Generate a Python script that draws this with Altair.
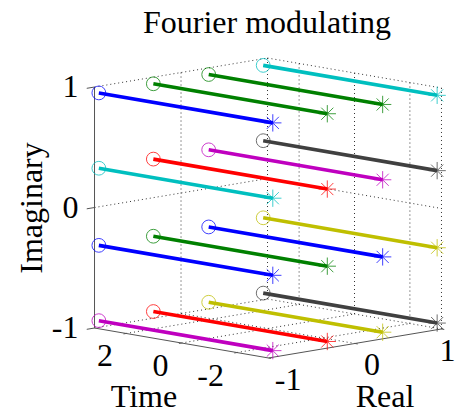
import altair as alt
import pandas as pd

# Constellation values
real_levels = [-0.95, -0.32, 0.32, 0.95]
imag_levels = [0.945, 0.32, -0.32, -0.945]
time_start = 3.14
time_end = -3.14
colors = [
    ["#0000ff", "#008000", "#008000", "#00bfbf"],
    ["#00bfbf", "#ff0000", "#bf00bf", "#404040"],
    ["#0000ff", "#008000", "#0000ff", "#bfbf00"],
    ["#bf00bf", "#ff0000", "#bfbf00", "#404040"],
]
time_ticks = [2, 0, -2]
real_ticks = [-1, 0, 1]
imag_ticks = [1, 0, -1]
T = 3.14

FONT = "Liberation Serif"
FS = 32


def px(t, r):
    return f"268 - 27.7*datum.{t} + 86.5*datum.{r}"


def py(t, r, z):
    return f"328.5 - 120.5*(datum.{z}+1) - 4.77*datum.{t} - 14.5*datum.{r}"


# Build tables
pts = []
for zi, z in enumerate(imag_levels):
    for ri, r in enumerate(real_levels):
        pts.append(dict(r=r, z=z, t0=time_start, t1=time_end, c=colors[zi][ri]))
pts = pd.DataFrame(pts)

dotted = []
for t in time_ticks:
    dotted.append((t, -1, -1, t, 1, -1))   # floor
    dotted.append((t, 1, -1, t, 1, 1))     # back wall
for r in [0, 1]:
    dotted.append((T, r, -1, T, r, 1))     # left wall
for r in [0, 1]:
    dotted.append((T, r, -1, -T, r, -1))   # floor
dotted.append((-T, 1, -1, -T, 1, 1))
dotted.append((T, -1, -1, T, 1, -1))
for z in imag_ticks[:2]:
    dotted.append((T, -1, z, T, 1, z))
    dotted.append((T, 1, z, -T, 1, z))
cols = ["t0", "r0", "z0", "t1", "r1", "z1"]
dotted = pd.DataFrame(dotted, columns=cols)

solid = [
    (T, -1, -1, T, -1, 1),
    (T, -1, -1, -T, -1, -1),
    (-T, -1, -1, -T, 1, -1),
]
solid = pd.DataFrame(solid, columns=cols)

ticks = []
for z in imag_ticks:
    ticks.append((T, -1, z, T, -1.09, z))
for t in time_ticks:
    ticks.append((t, -1, -1, t, -1.03, -1))
for r in real_ticks:
    ticks.append((-T, r, -1, -T - 0.1, r, -1))
ticks = pd.DataFrame(ticks, columns=cols)

z_labels = pd.DataFrame([dict(t=T, r=-1, z=z, s=str(z)) for z in imag_ticks])
t_labels = pd.DataFrame([dict(t=t, r=-1, z=-1, s=str(t)) for t in time_ticks])
r_labels = pd.DataFrame([dict(t=-T, r=r, z=-1, s=str(r)) for r in real_ticks])

X = alt.Scale(domain=[8, 456])
Y = alt.Scale(domain=[408, 8])


def seg_layer(data, **mark):
    return (
        alt.Chart(data)
        .transform_calculate(
            x=px("t0", "r0"), y=py("t0", "r0", "z0"),
            x2=px("t1", "r1"), y2=py("t1", "r1", "z1"),
        )
        .mark_rule(**mark)
        .encode(
            x=alt.X("x:Q", scale=X, axis=None),
            y=alt.Y("y:Q", scale=Y, axis=None),
            x2="x2:Q",
            y2="y2:Q",
        )
    )


def label_layer(data, dx, dy, align):
    return (
        alt.Chart(data)
        .transform_calculate(x=px("t", "r"), y=py("t", "r", "z"))
        .mark_text(font=FONT, fontSize=FS, color="black", align=align,
                   baseline="middle", dx=dx, dy=dy)
        .encode(
            x=alt.X("x:Q", scale=X, axis=None),
            y=alt.Y("y:Q", scale=Y, axis=None),
            text="s:N",
        )
    )


def plain_text(s, x, y, angle=0):
    return alt.Chart(pd.DataFrame({"s": [s]})).mark_text(
        font=FONT, fontSize=FS, color="black", align="center",
        baseline="middle", angle=angle,
    ).encode(x=alt.value(x), y=alt.value(y), text="s:N")


lines = (
    alt.Chart(pts)
    .transform_calculate(
        x=px("t0", "r"), y=py("t0", "r", "z"),
        x2=px("t1", "r"), y2=py("t1", "r", "z"),
    )
    .mark_rule(strokeWidth=3.6)
    .encode(
        x=alt.X("x:Q", scale=X, axis=None),
        y=alt.Y("y:Q", scale=Y, axis=None),
        x2="x2:Q", y2="y2:Q",
        color=alt.Color("c:N", scale=None),
    )
)
circles = (
    alt.Chart(pts)
    .transform_calculate(x=px("t0", "r"), y=py("t0", "r", "z"))
    .mark_point(shape="circle", size=190, filled=False, strokeWidth=1, opacity=0.75)
    .encode(
        x=alt.X("x:Q", scale=X, axis=None),
        y=alt.Y("y:Q", scale=Y, axis=None),
        color=alt.Color("c:N", scale=None),
    )
)
stars = (
    alt.Chart(pts)
    .transform_calculate(x=px("t1", "r"), y=py("t1", "r", "z"))
    .mark_point(
        shape="M-1,0L1,0M0,-1L0,1M-0.7,-0.7L0.7,0.7M-0.7,0.7L0.7,-0.7",
        size=300, filled=False, strokeWidth=1, opacity=0.75,
    )
    .encode(
        x=alt.X("x:Q", scale=X, axis=None),
        y=alt.Y("y:Q", scale=Y, axis=None),
        color=alt.Color("c:N", scale=None),
    )
)

chart = alt.layer(
    seg_layer(dotted, color="#333333", strokeWidth=1, strokeDash=[1, 3]),
    seg_layer(solid, color="#555555", strokeWidth=1),
    seg_layer(ticks, color="#555555", strokeWidth=1),
    label_layer(z_labels, -16, 0, "right"),
    label_layer(t_labels, -13, 23, "right"),
    label_layer(r_labels[r_labels.r == -1], 33, 22, "right"),
    label_layer(r_labels[r_labels.r == 0], 25, 22, "right"),
    label_layer(r_labels[r_labels.r == 1], 14, 22, "right"),
    plain_text("Fourier modulating", 259, 15),
    plain_text("Time", 136, 389),
    plain_text("Real", 377, 389),
    plain_text("Imaginary", 24, 200, 270),
    lines, circles, stars,
).properties(
    width=448, height=400, padding=0,
    autosize=alt.AutoSizeParams(type="none"),
).configure_view(stroke=None)

chart.save("out.html", embed_options={"renderer": "svg", "actions": False})
